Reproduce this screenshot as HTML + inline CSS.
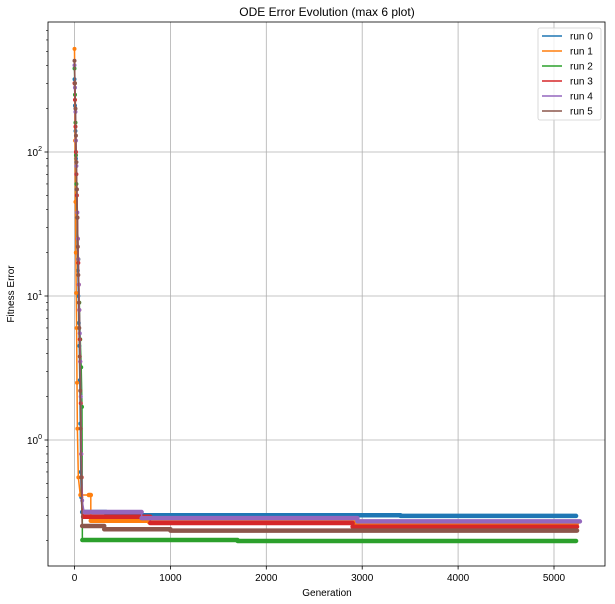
<!DOCTYPE html>
<html><head><meta charset="utf-8"><style>
body{margin:0;background:#fff;}
svg{display:block;font-family:"Liberation Sans","DejaVu Sans",sans-serif;}
</style></head><body>
<svg id="chart" width="615" height="604" viewBox="0 0 615 604" xmlns="http://www.w3.org/2000/svg">
<rect width="615" height="604" fill="#fff"/>
<text x="327" y="16" font-size="12" text-anchor="middle" fill="#000">ODE Error Evolution (max 6 plot)</text>
<g id="grid"></g><g id="series"></g><g id="axes"></g>
<text x="327" y="596" font-size="10" text-anchor="middle">Generation</text>
<text transform="translate(14,294) rotate(-90)" font-size="10" text-anchor="middle">Fitness Error</text>
<g id="legend"></g>
</svg>
<script>
const runNames = ["run 0","run 1","run 2","run 3","run 4","run 5"];
const colors = ["#1f77b4","#ff7f0e","#2ca02c","#d62728","#9467bd","#8c564b"];
const xTicks = [0,1000,2000,3000,4000,5000];
const yTicks = [1,10,100];
const yTickLabels = ["10","10","10"];
const yTickExp = ["0","1","2"];
// early descent (generation, error)
const early0G = [0,5,10,15,20,25,30,35,40,45,50,55,60,65,70,80];
const early0V = [320,210,140,90,55,35,22,15,10,6.5,4.5,2.6,1.3,0.6,0.4,0.316];
const early1G = [0,3,6,10,14,18,22,26,30,40,60,150];
const early1V = [520,300,120,45,20,10.5,6,2.5,1.2,0.55,0.415,0.415];
const early2G = [0,5,10,15,20,30,40,50,60,70,78,82];
const early2V = [380,250,160,95,60,35,18,9,5,3.2,1.7,0.202];
const early3G = [0,5,10,15,20,25,30,35,40,45,50,55,60,65,70,75,90];
const early3V = [300,230,150,100,70,50,35,25,17,12,8,5,3.5,1.8,0.8,0.55,0.293];
const early4G = [0,5,10,15,20,25,30,35,40,45,50,55,60,65,70,80,100];
const early4V = [400,280,190,120,80,55,38,25,18,12,8,5.5,3.5,2,0.8,0.38,0.316];
const early5G = [0,5,10,15,20,25,30,35,40,45,50,55,60,65,70,80];
const early5V = [430,300,200,130,85,55,35,22,14,9,6,3.8,2.2,1.2,0.55,0.253];
// plateau steps (generation where level starts, level)
const steps0G = [80,330,3400,5230];
const steps0V = [0.316,0.300,0.297,0.297];
const steps1G = [150,170,780,4000,5240];
const steps1V = [0.415,0.275,0.268,0.264,0.264];
const steps2G = [82,1700,5230];
const steps2V = [0.202,0.199,0.199];
const steps3G = [90,790,2900,5240];
const steps3V = [0.293,0.265,0.250,0.250];
const steps4G = [100,700,2950,5270];
const steps4V = [0.316,0.287,0.272,0.272];
const steps5G = [80,310,1000,5240];
const steps5V = [0.253,0.240,0.235,0.235];

const earlyG=[early0G,early1G,early2G,early3G,early4G,early5G];
const earlyV=[early0V,early1V,early2V,early3V,early4V,early5V];
const stepsG=[steps0G,steps1G,steps2G,steps3G,steps4G,steps5G];
const stepsV=[steps0V,steps1V,steps2V,steps3V,steps4V,steps5V];

const L=48,R=605,T=22,B=566;
const X0=74.5,XS=0.0959;
function xs(g){return X0+g*XS;}
function ys(v){return 440-144*Math.log10(v);}
const NS="http://www.w3.org/2000/svg";
function mk(tag,attrs,parent){const e=document.createElementNS(NS,tag);for(const k in attrs)e.setAttribute(k,attrs[k]);parent.appendChild(e);return e;}
const grid=document.getElementById('grid'),axes=document.getElementById('axes'),ser=document.getElementById('series'),leg=document.getElementById('legend');
// grid + ticks
xTicks.forEach(t=>{
  const gl=mk('line',{x1:xs(t),x2:xs(t),y1:T,y2:B,stroke:'#b0b0b0','stroke-width':0.8},grid);
  
  
  mk('line',{x1:xs(t),x2:xs(t),y1:B,y2:B+3.5,stroke:'#000','stroke-width':0.8},axes);
  const tx=mk('text',{x:xs(t),y:B+15,'font-size':10,'text-anchor':'middle'},axes);
  tx.textContent=t;
  
  
});
yTicks.forEach((t,i)=>{
  const y=ys(t);
  const gl=mk('line',{x1:L,x2:R,y1:y,y2:y,stroke:'#b0b0b0','stroke-width':0.8},grid);
  
  
  mk('line',{x1:L-3.5,x2:L,y1:y,y2:y,stroke:'#000','stroke-width':0.8},axes);
  const tx=mk('text',{x:L-6,y:y+4,'font-size':10,'text-anchor':'end'},axes);
  
  
  const a=document.createElementNS(NS,'tspan');a.textContent=yTickLabels[i];tx.appendChild(a);
  const b=document.createElementNS(NS,'tspan');b.setAttribute('dy','-5');b.setAttribute('font-size','7');b.textContent=yTickExp[i];tx.appendChild(b);
});
for(let d=-1;d<=2;d++)for(let m=2;m<=9;m++){const y=ys(m*Math.pow(10,d));if(y>T&&y<B)mk('line',{x1:L-2,x2:L,y1:y,y2:y,stroke:'#000','stroke-width':0.6},axes);}
mk('rect',{x:L,y:T,width:R-L,height:B-T,fill:'none',stroke:'#000','stroke-width':0.8},axes);
// series
for(let k=0;k<6;k++){
  const g=mk('g',{},ser);
  
  
  const c=colors[k];
  let d='';
  earlyG[k].forEach((gg,i)=>{d+=(i?'L':'M')+xs(gg)+','+ys(earlyV[k][i]);});
  mk('path',{d:d,fill:'none',stroke:c,'stroke-width':1.5},g);
  earlyG[k].forEach((gg,i)=>{const p=mk('circle',{cx:xs(gg),cy:ys(earlyV[k][i]),r:2,fill:c},g);});
  let sd='';
  const sg=stepsG[k],sv=stepsV[k];
  for(let i=0;i<sg.length;i++){
    if(i===0)sd+='M'+xs(sg[0])+','+ys(sv[0]);
    else sd+='L'+xs(sg[i])+','+ys(sv[i-1])+'L'+xs(sg[i])+','+ys(sv[i]);
  }
  mk('path',{d:sd,fill:'none',stroke:c,'stroke-width':1.5},g);
  for(let i=0;i<sg.length-1;i++){
    const seg=mk('line',{x1:xs(sg[i]),x2:xs(sg[i+1]),y1:ys(sv[i]),y2:ys(sv[i]),stroke:c,'stroke-width':4.5,'stroke-linecap':'round'},g);
    
    
  }
}
// legend
mk('rect',{x:538,y:28,width:63,height:92,rx:2,fill:'#fff','fill-opacity':0.8,stroke:'#d0d0d0','stroke-width':0.8},leg);
runNames.forEach((n,i)=>{
  const y=36+i*15;
  const e=mk('g',{},leg);
  
  
  mk('line',{x1:542,x2:562,y1:y,y2:y,stroke:colors[i],'stroke-width':1.5},e);
  const t=mk('text',{x:570,y:y+3.5,'font-size':10},e);t.textContent=n;
});
</script>
</body></html>
